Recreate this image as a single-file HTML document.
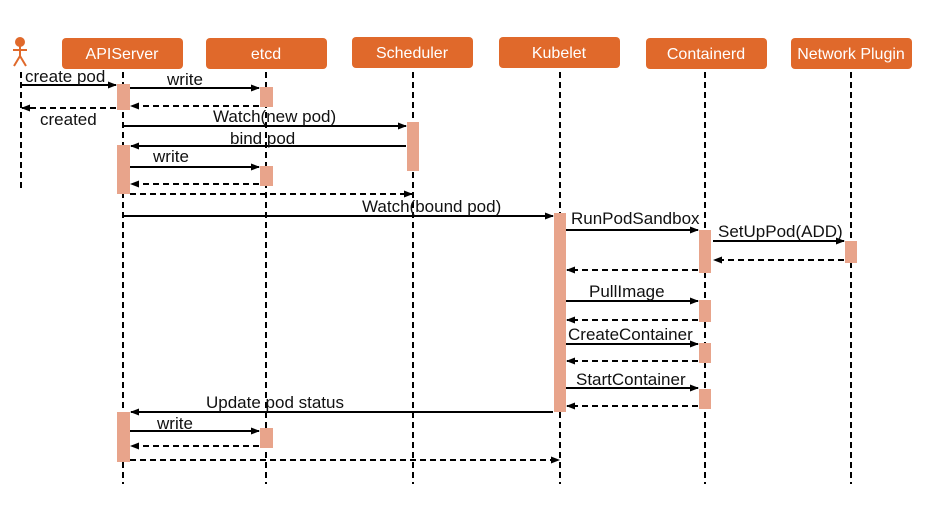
<!DOCTYPE html>
<html><head><meta charset="utf-8"><style>body{margin:0;background:#fff}svg{display:block}text{font-family:"Liberation Sans",sans-serif;font-size:17px;fill:#111}</style></head><body>
<svg width="925" height="507" viewBox="0 0 925 507" xmlns="http://www.w3.org/2000/svg">
<defs><marker id="a" markerWidth="9" markerHeight="8" refX="8" refY="4" orient="auto" markerUnits="userSpaceOnUse"><path d="M0,0.5 L9,4 L0,7.5z" fill="#000"/></marker></defs>
<g fill="#e0692b">
<rect x="62" y="38" width="121" height="31" rx="4"/><rect x="206" y="38" width="121" height="31" rx="4"/><rect x="352" y="37" width="121" height="31" rx="4"/><rect x="499" y="37" width="121" height="31" rx="4"/><rect x="646" y="38" width="121" height="31" rx="4"/><rect x="791" y="38" width="121" height="31" rx="4"/>
</g>
<g text-anchor="middle"><text x="122" y="59" style="fill:#fff;font-size:16px">APIServer</text><text x="266" y="59" style="fill:#fff;font-size:16px">etcd</text><text x="412" y="58" style="fill:#fff;font-size:16px">Scheduler</text><text x="559" y="58" style="fill:#fff;font-size:16px">Kubelet</text><text x="706" y="59" style="fill:#fff;font-size:16px">Containerd</text><text x="851" y="59" style="fill:#fff;font-size:16px">Network Plugin</text></g>
<g fill="none" stroke="#e0692b" stroke-width="2"><circle cx="20" cy="42" r="4" fill="#e0692b"/><path d="M20,46V56M13,50H27M20,56L14,66M20,56L26,66"/></g>
<g stroke="#000" stroke-width="2" stroke-dasharray="6,4"><path d="M21,72V188M123,72V484M266,72V484M413,72V484M560,72V484M705,72V484M851,72V484"/></g>
<g fill="#e8a48b">
<rect x="117" y="84" width="13" height="26"/><rect x="117" y="145" width="13" height="49"/><rect x="117" y="412" width="13" height="50"/>
<rect x="260" y="87" width="13" height="20"/><rect x="260" y="166" width="13" height="20"/><rect x="260" y="428" width="13" height="20"/>
<rect x="407" y="122" width="12" height="49"/><rect x="554" y="213" width="12" height="199"/>
<rect x="699" y="230" width="12" height="43"/><rect x="699" y="300" width="12" height="22"/><rect x="699" y="343" width="12" height="20"/><rect x="699" y="389" width="12" height="20"/>
<rect x="845" y="241" width="12" height="22"/></g>
<g stroke="#000" stroke-width="2" marker-end="url(#a)">
<path d="M21,85H116"/><path d="M130,88H259"/><path d="M124,126H406"/><path d="M406,146H131"/><path d="M130,167H259"/><path d="M124,216H553"/><path d="M566,230H698"/><path d="M713,241H844"/><path d="M566,301H698"/><path d="M566,344H698"/><path d="M566,388H698"/><path d="M553,412H131"/><path d="M130,431H259"/>
</g>
<g stroke="#000" stroke-width="2" stroke-dasharray="6,4" marker-end="url(#a)">
<path d="M259,106H131"/><path d="M116,108H22"/><path d="M259,184H131"/><path d="M130,194H412"/><path d="M844,260H714"/><path d="M698,270H567"/><path d="M698,320H567"/><path d="M698,361H567"/><path d="M698,406H567"/><path d="M259,446H131"/><path d="M130,460H559"/>
</g>
<text x="25" y="82">create pod</text><text x="167" y="85">write</text><text x="40" y="125">created</text><text x="213" y="122">Watch(new pod)</text><text x="230" y="144">bind pod</text><text x="153" y="162">write</text><text x="362" y="212">Watch(bound pod)</text><text x="571" y="224">RunPodSandbox</text><text x="718" y="237">SetUpPod(ADD)</text><text x="589" y="297">PullImage</text><text x="568" y="340">CreateContainer</text><text x="576" y="385">StartContainer</text><text x="206" y="408">Update pod status</text><text x="157" y="429">write</text>
</svg>
</body></html>
